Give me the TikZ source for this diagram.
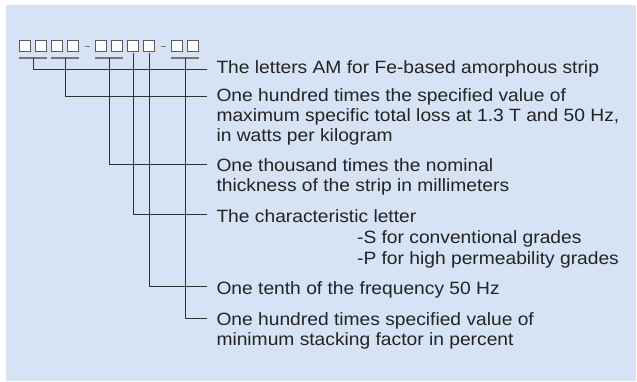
\documentclass[tikz,border=0pt]{standalone}
\usepackage{fontspec}
\setmainfont[FakeStretch=1.08]{Liberation Sans}
\usetikzlibrary{calc}
\definecolor{bgblue}{RGB}{213,227,245}
\definecolor{txtcol}{RGB}{35,35,35}
\definecolor{conncol}{RGB}{50,50,50}
\definecolor{ulgray}{RGB}{120,120,120}
\definecolor{boxgray}{RGB}{90,90,90}
\begin{document}
\begin{tikzpicture}[x=1pt,y=-1pt,
  bx/.style={draw=boxgray, fill=white, line width=1.2pt, minimum size=11pt, inner sep=0pt, outer sep=0pt},
  uline/.style={draw=ulgray, line width=2pt},
  sepdash/.style={draw=ulgray, line width=1pt},
  conn/.style={draw=conncol, line width=1pt},
  lbl/.style={anchor=base west, inner sep=0pt, outer sep=0pt, text=txtcol, font=\fontsize{17.8}{20}\selectfont}]
\useasboundingbox (0,0) rectangle (637,381);
\fill[bgblue] (6,5) rectangle (636,381);
% code boxes
\foreach \i/\x in {1/25,2/41,3/57,4/73,5/101,6/117,7/133,8/149,9/177,10/193}
  \node[bx] (b\i) at (\x,46) {};
% separator dashes
\draw[sepdash] ($($(b4.east)!0.5!(b5.west)$)+(-2.5,0)$) -- ($($(b4.east)!0.5!(b5.west)$)+(2.5,0)$);
\draw[sepdash] ($($(b8.east)!0.5!(b9.west)$)+(-2.5,0)$) -- ($($(b8.east)!0.5!(b9.west)$)+(2.5,0)$);
% underlines
\draw[uline] ($(b1.south west)+(-0.5,6)$) -- ($(b2.south east)+(0.5,6)$);
\draw[uline] ($(b3.south west)+(-0.5,6)$) -- ($(b4.south east)+(0.5,6)$);
\draw[uline] ($(b5.south west)+(-0.5,6)$) -- ($(b6.south east)+(0.5,6)$);
\draw[uline] ($(b9.south west)+(-0.5,6)$) -- ($(b10.south east)+(0.5,6)$);
\coordinate (u1) at ($($(b1.south)!0.5!(b2.south)$)+(0,6)$);
\coordinate (u2) at ($($(b3.south)!0.5!(b4.south)$)+(0,6)$);
\coordinate (u3) at ($($(b5.south)!0.5!(b6.south)$)+(0,6)$);
\coordinate (u4) at ($(b7.south)+(0,1.5)$);
\coordinate (u5) at ($(b8.south)+(0,1.5)$);
\coordinate (u6) at ($($(b9.south)!0.5!(b10.south)$)+(0,6)$);
% connector ends
\coordinate (e1) at (206.5,69.5);
\coordinate (e2) at (206.5,96);
\coordinate (e3) at (206.5,164);
\coordinate (e4) at (206.5,214.5);
\coordinate (e5) at (206.5,286);
\coordinate (e6) at (206.5,318);
% texts
\node[lbl] (t1) at (216.5,73.8) {The letters AM for Fe-based amorphous strip};
\node[lbl] (t2) at (216.5,101.8) {\vtop{\hbox{One hundred times the specified value of}\hbox{maximum specific total loss at 1.3 T and 50 Hz,}\hbox{in watts per kilogram}}};
\node[lbl] (t3) at (216.5,171.5) {\vtop{\hbox{One thousand times the nominal}\hbox{thickness of the strip in millimeters}}};
\node[lbl] (t4) at (216.5,222.5) {\vtop{\baselineskip=21pt\hbox{The characteristic letter}\hbox{\kern140.6pt -S for conventional grades}\hbox{\kern140.6pt -P for high permeability grades}}};
\node[lbl] (t5) at (216.5,294) {One tenth of the frequency 50 Hz};
\node[lbl] (t6) at (216.5,325.5) {\vtop{\hbox{One hundred times specified value of}\hbox{minimum stacking factor in percent}}};
% connectors
\draw[conn] (u1) |- (e1);
\draw[conn] (u2) |- (e2);
\draw[conn] (u3) |- (e3);
\draw[conn] (u4) |- (e4);
\draw[conn] (u5) |- (e5);
\draw[conn] (u6) |- (e6);
\end{tikzpicture}
\end{document}
